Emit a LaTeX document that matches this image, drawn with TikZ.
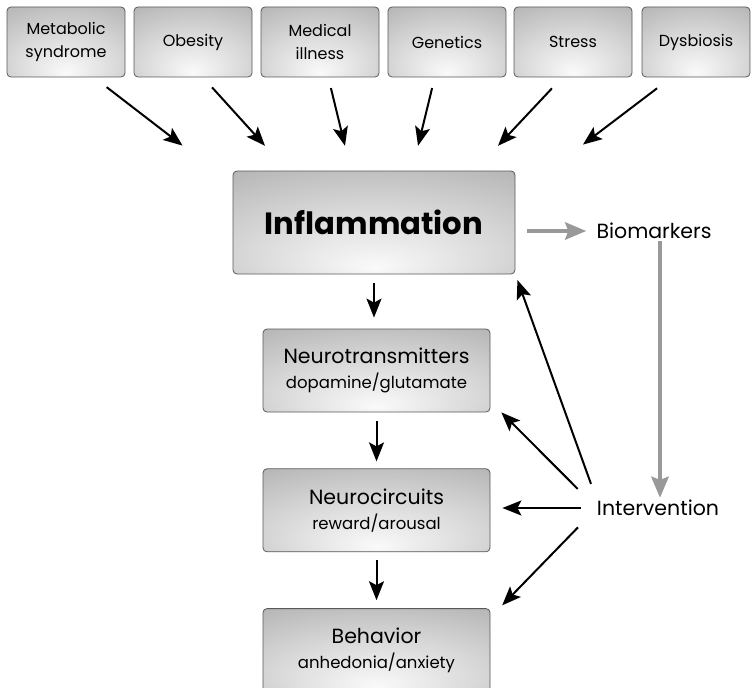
\documentclass[tikz,border=0pt]{standalone}
\usepackage{fontspec}
\setmainfont{Poppins}
\usetikzlibrary{arrows.meta,positioning,calc}

\newcommand\labelfont{\fontsize{16}{22.5}\selectfont}
\newcommand\midfont{\fontsize{20.5}{25}\selectfont}
\newcommand\subfont{\fontsize{16.5}{20}\selectfont}
\newcommand\bigfont{\fontsize{30.7}{34}\selectfont\bfseries}

\pgfdeclareradialshading{boxglow}{\pgfpoint{0bp}{-22bp}}{color(0bp)=(black!2); color(22bp)=(black!15); color(45bp)=(black!30); color(80bp)=(black!45)}

\tikzset{
  box/.style={draw=black!65, line width=0.8pt, rounded corners=4pt, shading=boxglow,
    align=center, minimum width=118pt, minimum height=70pt, font=\labelfont},
  midbox/.style={box, minimum width=227pt, minimum height=83pt, font=\midfont},
  txt/.style={inner sep=0pt, font=\midfont},
  arr/.style={line width=2pt, -{Stealth[length=19pt,width=15pt,inset=4pt]}},
  garr/.style={line width=4.5pt, draw=black!40, -{Stealth[length=21pt,width=17pt,inset=3pt]}}
}

\begin{document}
\begin{tikzpicture}[x=1pt,y=-1pt]
\useasboundingbox (0,0) rectangle (751,687);
\clip (0,0) rectangle (751,687);

\node[box] (metab) at (66,42) {Metabolic\\syndrome};
\node[box] (obes) at (193,42) {Obesity};
\node[box] (medic) at (320,42) {Medical\\illness};
\node[box] (genet) at (447,42) {Genetics};
\node[box] (stress) at (573,42) {Stress};
\node[box, minimum width=108pt] (dysb) at (696,42) {Dysbiosis};

\node[box, minimum width=282pt, minimum height=103pt, font=\bigfont] (infl) at (374,222.5) {Inflammation};
\node[midbox] (neurot) at (376.5,370.5) {Neurotransmitters\\{\subfont dopamine/glutamate}};
\node[midbox, below=56pt of neurot] (neuroc) {Neurocircuits\\{\subfont reward/arousal}};
\node[midbox, below=56pt of neuroc] (behav) {Behavior\\{\subfont anhedonia/anxiety}};

\node[txt] (bio) at (654,231) {Biomarkers};
\node[txt] (interv) at (658,508) {Intervention};

% causes
\draw[arr, shorten <=16pt, shorten >=41pt] ([xshift=28pt]metab.south) -- ([xshift=-159pt]infl.north);
\draw[arr, shorten <=13.5pt, shorten >=33.5pt] ([xshift=10pt]obes.south) -- ([xshift=-86.5pt]infl.north);
\draw[arr, shorten <=11pt, shorten >=25.5pt] ([xshift=8.3pt]medic.south) -- ([xshift=-23pt]infl.north);
\draw[arr, shorten <=11pt, shorten >=25.5pt] ([xshift=-12.3pt]genet.south) -- ([xshift=38pt]infl.north);
\draw[arr, shorten <=15pt, shorten >=34pt] ([xshift=-10.8pt]stress.south) -- ([xshift=100.7pt]infl.north);
\draw[arr, shorten <=18pt, shorten >=43pt] ([xshift=-24.6pt]dysb.south) -- ([xshift=174.7pt]infl.north);

% cascade
\draw[arr, shorten <=9pt, shorten >=11pt] (infl.south) -- (infl.south |- neurot.north);
\draw[arr, shorten <=9pt, shorten >=7pt] (neurot.south) -- (neuroc.north);
\draw[arr, shorten <=8pt, shorten >=8pt] (neuroc.south) -- (behav.north);

% biomarkers
\draw[garr, shorten <=12pt, shorten >=10pt] (infl.east |- bio) -- (bio.west);
\draw[garr, shorten <=2pt, shorten >=2pt] ([xshift=6pt]bio.south) -- ([xshift=6pt]bio.south |- interv.north);

% intervention
\draw[arr, shorten <=17pt, shorten >=6pt] (interv.north west) -- (infl.south east);
\draw[arr, shorten <=27pt] (interv.west) -- ([xshift=11pt]neurot.south east);
\draw[arr, shorten <=16pt, shorten >=12pt] (interv.west) -- (interv.west -| neuroc.east);
\draw[arr, shorten <=27pt, shorten >=4pt] (interv.west) -- ([xshift=9pt]behav.north east);
\end{tikzpicture}
\end{document}
